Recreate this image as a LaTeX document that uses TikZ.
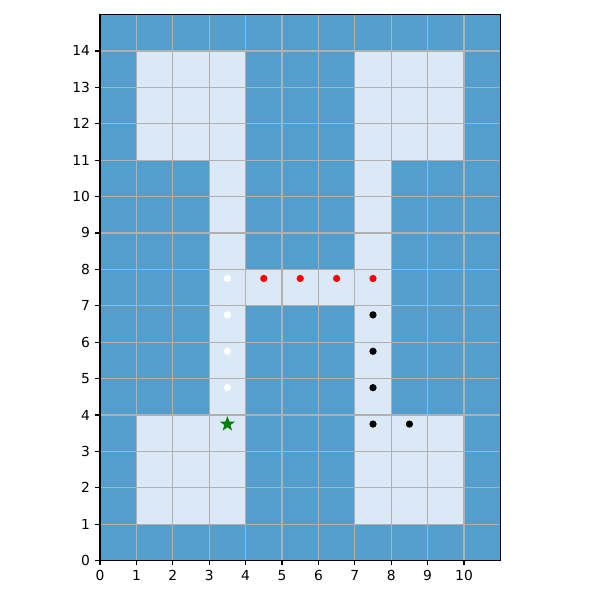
\documentclass[tikz,border=0pt]{standalone}
\usepackage{fontspec}
\setmainfont{DejaVu Sans}
\usetikzlibrary{shapes.geometric}
\definecolor{wallblue}{HTML}{549ECD}
\definecolor{floorblue}{HTML}{DBE9F6}
\definecolor{gridgray}{HTML}{B0B0B0}
\definecolor{goalgreen}{HTML}{008000}
\tikzset{
  floor/.style={fill=floorblue, draw=none},
  gridline/.style={draw=gridgray, line width=0.85pt},
  spine/.style={draw=black, line width=0.85pt},
  tickmark/.style={draw=black, line width=0.85pt},
  ticklabel/.style={font=\fontsize{10.8}{13}\selectfont, inner sep=0pt},
  dot/.style={circle, inner sep=0pt, minimum size=0.2cm},
  goal/.style={star, star points=5, star point ratio=2.5, fill=goalgreen,
               inner sep=0pt, minimum size=0.44cm},
}

\begin{document}
\begin{tikzpicture}
  \useasboundingbox (-2.747,-1.07) rectangle (13.736,15.40);
  % walls and open cells
  \fill[wallblue] (0,0) rectangle (11,15);
  \fill[floor] (1,11) rectangle (4,14);
  \fill[floor] (3,4) rectangle (4,11);
  \fill[floor] (1,1) rectangle (4,4);
  \fill[floor] (4,7) rectangle (7,8);
  \fill[floor] (7,4) rectangle (8,11);
  \fill[floor] (7,11) rectangle (10,14);
  \fill[floor] (7,1) rectangle (10,4);
  % grid
  \foreach \x in {0,...,10} \draw[gridline] (\x,0) -- (\x,15);
  \foreach \y in {0,...,14} \draw[gridline] (0,\y) -- (11,\y);
  % agents
  \foreach \y in {4.75,5.75,6.75,7.75}
    \node[dot, fill=white] at (3.5,\y) {};
  \foreach \x in {4.5,5.5,6.5,7.5}
    \node[dot, fill=red] at (\x,7.75) {};
  \foreach \p in {(7.5,6.75),(7.5,5.75),(7.5,4.75),(7.5,3.75),(8.5,3.75)}
    \node[dot, fill=black] at \p {};
  \node[goal] (start) at (3.5,3.75) {};
  % axes
  \draw[spine] (0,0) rectangle (11,15);
  \foreach \x in {0,...,10} {
    \draw[tickmark] (\x,0) -- (\x,-0.134);
    \node[ticklabel, anchor=north] (xl\x) at (\x,-0.27) {\x};
  }
  \foreach \y in {0,...,14} {
    \draw[tickmark] (0,\y) -- (-0.134,\y);
    \node[ticklabel, anchor=east] (yl\y) at (-0.27,\y) {\y};
  }
\end{tikzpicture}
\end{document}
